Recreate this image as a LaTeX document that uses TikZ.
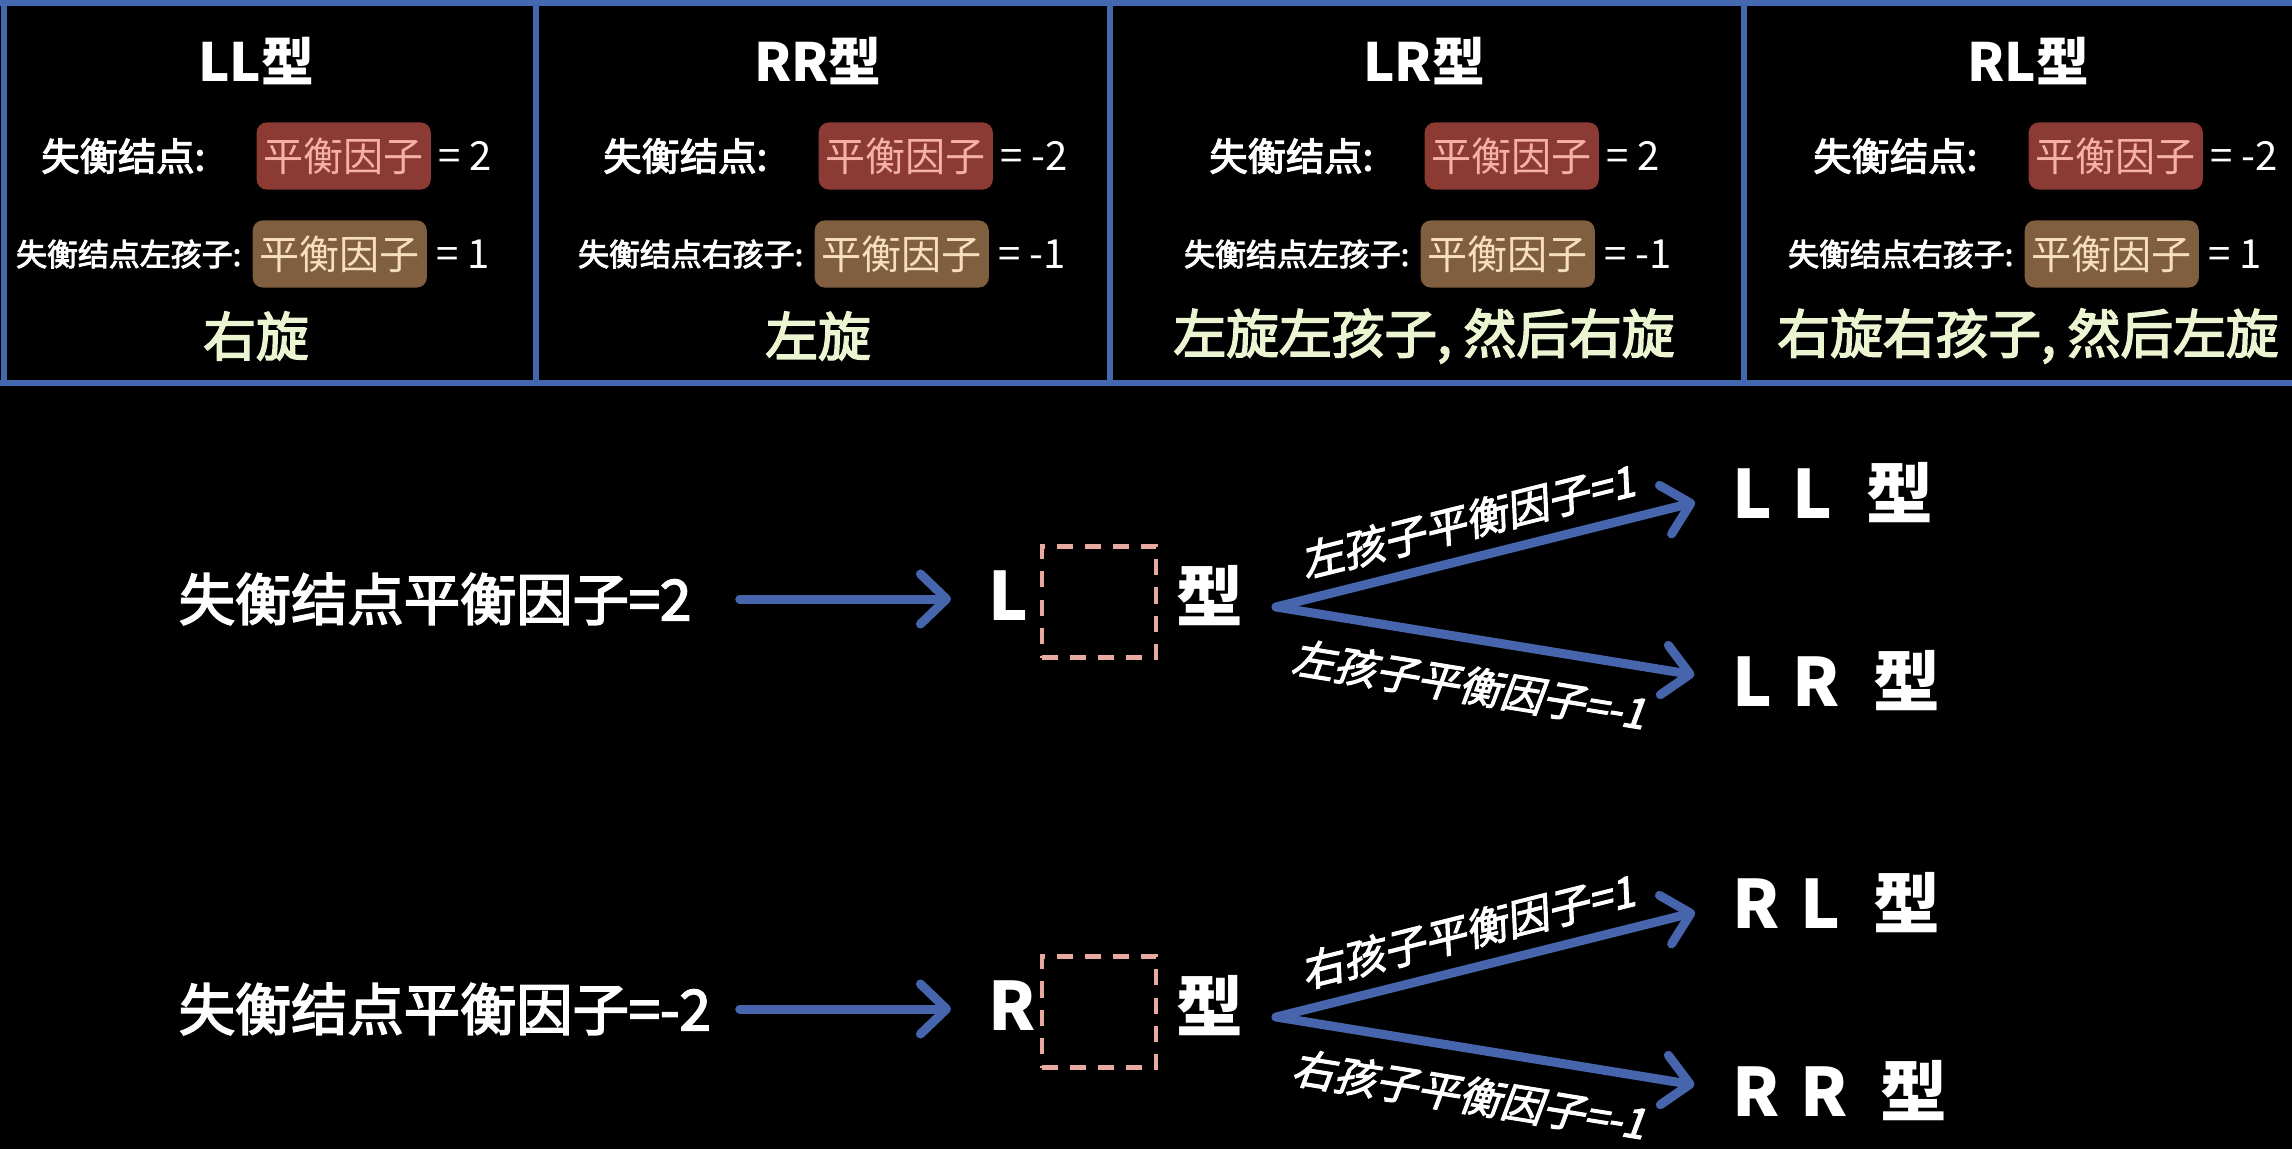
\documentclass[tikz,border=0pt]{standalone}
\usepackage{fontspec}
\setmainfont{Noto Sans CJK SC}
\newfontfamily\mediumcjk[FakeBold=3]{Noto Sans CJK SC}
\newfontfamily\slantcjk[FakeSlant=0.2,FakeBold=2.5]{Noto Sans CJK SC}
\usepackage{tikz}
\usetikzlibrary{arrows.meta,positioning}
\definecolor{gridblue}{HTML}{4468B0}
\definecolor{arrowblue}{HTML}{4665AD}
\definecolor{rootred}{HTML}{8B3A34}
\definecolor{rootink}{HTML}{F5B0A8}
\definecolor{childbrown}{HTML}{7F5F3F}
\definecolor{childink}{HTML}{F7DEBE}
\definecolor{turnink}{HTML}{ECF5D2}
\definecolor{slotpink}{HTML}{E8AAA0}
\tikzset{gridline/.style={gridblue,line width=0.06cm},
    casetitle/.style={text=white,inner sep=0,font=\fontsize{15}{18}\selectfont\bfseries},
    caselabel/.style={text=white,inner sep=0,font=\fontsize{10.9}{13}\selectfont\mediumcjk},
    childlabel/.style={text=white,inner sep=0,font=\fontsize{8.8}{11}\selectfont\mediumcjk},
    factorbox/.style={rounded corners=0.1cm,minimum width=1.74cm,minimum height=0.67cm,inner sep=0,font=\fontsize{11.4}{13}\selectfont},
    valuetext/.style={text=white,inner sep=0,font=\fontsize{11.4}{13}\selectfont},
    turntext/.style={text=turnink,inner sep=0,font=\fontsize{15}{18}\selectfont\mediumcjk},
    bigtext/.style={text=white,inner sep=0,font=\fontsize{16}{19}\selectfont\mediumcjk},
    typetext/.style={text=white,inner sep=0,font=\fontsize{19}{22}\selectfont\bfseries},
    slotbox/.style={draw=slotpink,line width=0.045cm,dash pattern=on 0.16cm off 0.12cm,minimum width=1.14cm,minimum height=1.11cm},
    flowarrow/.style={arrowblue,line width=0.09cm,line cap=round,-{Straight Barb[length=0.26cm,width=0.5cm,round]}},
    branchlabel/.style={text=white,inner sep=0,font=\fontsize{12}{14}\selectfont\slantcjk}
}
\newcommand{\rotationcase}[6]
{
% args: (x of the case, case name, child side, root factor, child factor, rotation)
    \node (title#2) [casetitle] at (#1,61) {#2型};
    \node (root#2) [factorbox,fill=rootred,text=rootink,anchor=west] at (#1,156) {平衡因子};
    \node (child#2) [factorbox,fill=childbrown,text=childink,anchor=west] at (#1-4,254) {平衡因子};
    \node (rootname#2) [caselabel,left=0.5cm of root#2] {失衡结点:};
    \node (childname#2) [childlabel,left=0.1cm of child#2] {失衡结点#3孩子:};
    \node (rootvalue#2) [valuetext,right=0.06cm of root#2] {= #4};
    \node (childvalue#2) [valuetext,right=0.08cm of child#2] {= #5};
    \node (turn#2) [turntext] at (#1,336) {#6};
}
\newcommand{\factorbranch}[4]
{
% args: (y of the row, side letter, root factor, side word)
    \node (lhs#2) [bigtext,anchor=west,text width=5.6cm] at (178,#1) {失衡结点平衡因子=#3};
    \node (mark#2) [typetext,anchor=west] at (988,#1-3) {#2};
    \node (slot#2) [slotbox] at (1099,#1+3) {};
    \node (type#2) [typetext] at (1210,#1-3) {型};
    \coordinate (fork#2) at (1276,#1+8);
    \node (upper#2) [typetext,anchor=west] at (1732,#1-106) {#2\hspace{0.3em}L\hspace{0.5em}型};
    \node (lower#2) [typetext,anchor=west] at (1732,#1+82) {#2\hspace{0.3em}R\hspace{0.5em}型};

    \draw [flowarrow,shorten >=0.37cm] (lhs#2.east) -- (lhs#2.east -| mark#2.west);
    \draw [flowarrow,shorten >=0.38cm] (fork#2) -- (upper#2.west)
        node [branchlabel,pos=0.44,sloped,above=0.13cm] {#4孩子平衡因子=1};
    \draw [flowarrow,shorten >=0.38cm] (fork#2) -- (lower#2.west)
        node [branchlabel,pos=0.44,sloped,below=0.22cm] {#4孩子平衡因子=-1};
}
\begin{document}
\begin{tikzpicture}[x=0.01cm,y=-0.01cm]

\fill [black] (0,0) rectangle (2292,1149);
\useasboundingbox (0,0) rectangle (2292,1149);

% table of the four cases
\draw [gridline] (0,3) -- (2292,3);
\draw [gridline] (0,383) -- (2292,383);
\foreach \x in {4,536,1110,1744}
    \draw [gridline] (\x,3) -- (\x,383);

\rotationcase{256}{LL}{左}{2}{1}{右旋}
\rotationcase{818}{RR}{右}{-2}{-1}{左旋}
\rotationcase{1424}{LR}{左}{2}{-1}{左旋左孩子, 然后右旋}
\rotationcase{2028}{RL}{右}{-2}{1}{右旋右孩子, 然后左旋}

% how the case is found
\factorbranch{599}{L}{2}{左}
\factorbranch{1009}{R}{-2}{右}

\end{tikzpicture}
\end{document}
